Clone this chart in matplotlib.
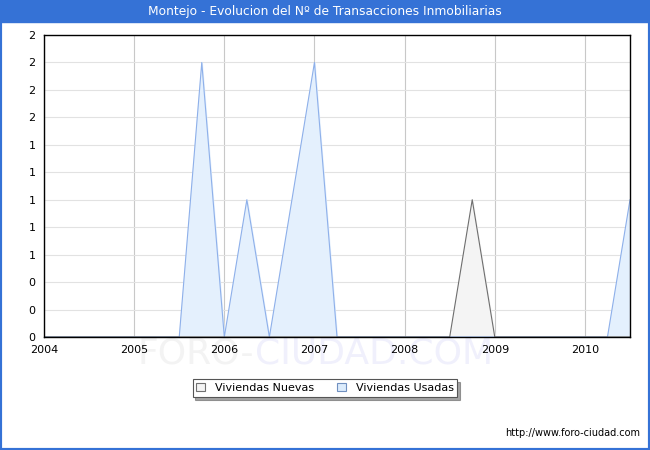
import matplotlib
matplotlib.use("Agg")
import matplotlib.pyplot as plt
import matplotlib.patches as mpatches
import numpy as np

# --- Datos (trimestrales, 2004T1 .. 2010T3) ---
fechas = [2004.0, 2004.25, 2004.5, 2004.75,
          2005.0, 2005.25, 2005.5, 2005.75,
          2006.0, 2006.25, 2006.5, 2006.75,
          2007.0, 2007.25, 2007.5, 2007.75,
          2008.0, 2008.25, 2008.5, 2008.75,
          2009.0, 2009.25, 2009.5, 2009.75,
          2010.0, 2010.25, 2010.5]
nuevas = [0, 0, 0, 0, 0, 0, 0, 0, 0, 0, 0, 0, 0, 0, 0, 0, 0, 0, 0, 1, 0, 0, 0, 0, 0, 0, 0]
usadas = [0, 0, 0, 0, 0, 0, 0, 2, 0, 1, 0, 1, 2, 0, 0, 0, 0, 0, 0, 0, 0, 0, 0, 0, 0, 0, 1]
anios = [2004, 2005, 2006, 2007, 2008, 2009, 2010]
yticks = [0, 0.2, 0.4, 0.6, 0.8, 1.0, 1.2, 1.4, 1.6, 1.8, 2.0, 2.2]

titulo = "Montejo - Evolucion del Nº de Transacciones Inmobiliarias"
azul = "#3572d6"

fig = plt.figure(figsize=(6.5, 4.5), dpi=100)

# marco azul y barra de titulo
fig.patches.append(mpatches.Rectangle((0, 0), 1, 1, transform=fig.transFigure,
                                      fill=False, edgecolor=azul, linewidth=3))
fig.patches.append(mpatches.Rectangle((0, 1 - 22 / 450), 1, 22 / 450, transform=fig.transFigure,
                                      facecolor=azul, edgecolor=azul))
fig.text(0.5, 1 - 11 / 450, titulo, color="white", ha="center", va="center", fontsize=8.8)

# marca de agua (detras de todo)
fig.text(254 / 650, 1 - 353 / 450, "FORO-", color="#f3f3f3", ha="right", va="center",
         fontsize=26, zorder=-2)
fig.text(255 / 650, 1 - 353 / 450, "CIUDAD.COM", color="#f0f0fc", ha="left", va="center",
         fontsize=26, zorder=-2)

ax = fig.add_axes([44 / 650, 1 - 337 / 450, 586 / 650, 302 / 450])
ax.set_facecolor("none")

ax.fill_between(fechas, usadas, color="#e4f0fd", zorder=2)
ax.plot(fechas, usadas, color="#8eb0ea", linewidth=0.8, zorder=3)
ax.fill_between(fechas, nuevas, color="#f4f4f4", zorder=2)
ax.plot(fechas, nuevas, color="#6e6e6e", linewidth=0.8, zorder=3)

ax.set_xlim(2004, 2010.5)
ax.set_ylim(0, 2.2)
ax.set_xticks(anios)
ax.set_xticklabels([str(a) for a in anios])
ax.set_yticks(yticks)
ax.set_yticklabels([f"{v:.0f}" for v in yticks])
ax.tick_params(length=0, labelsize=8, pad=6)

ax.xaxis.grid(True, color="#c8c8c8", linewidth=0.8)
ax.yaxis.grid(True, color="#e2e2e2", linewidth=0.8)
ax.set_axisbelow(True)
for s in ax.spines.values():
    s.set_color("black")
    s.set_linewidth(1)
    s.set_zorder(4)

handles = [mpatches.Patch(facecolor="#f4f4f4", edgecolor="#707070", linewidth=0.8, label="Viviendas Nuevas"),
           mpatches.Patch(facecolor="#dcecfc", edgecolor="#7090c0", linewidth=0.8, label="Viviendas Usadas")]
leg = fig.legend(handles=handles, loc="center", bbox_to_anchor=(325 / 650, 1 - 388 / 450),
                 ncol=2, fontsize=8, frameon=True, fancybox=False, shadow=True,
                 handlelength=0.8, handleheight=0.8, columnspacing=2.0, handletextpad=0.9,
                 borderpad=0.35, borderaxespad=0)
leg.get_frame().set_edgecolor("#555555")
leg.get_frame().set_linewidth(0.8)

fig.text(640 / 650, 1 - 433 / 450, "http://www.foro-ciudad.com", ha="right", va="center", fontsize=7)

fig.savefig("out.png", dpi=100)
